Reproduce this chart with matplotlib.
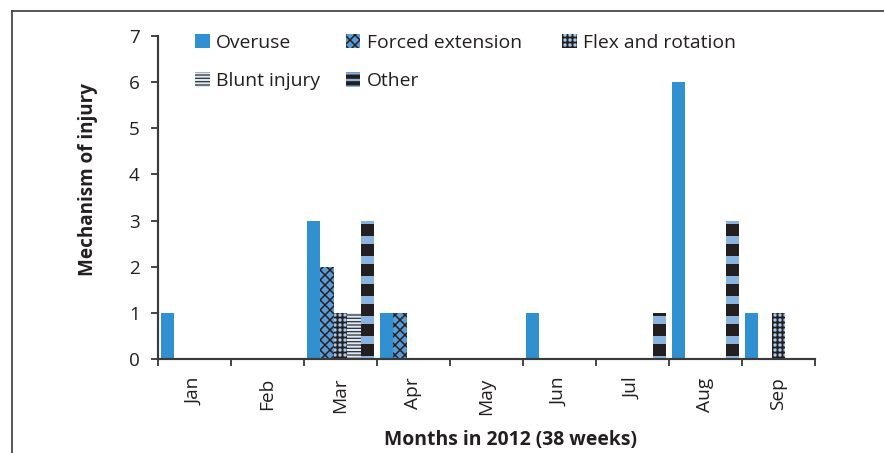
import numpy as np
import matplotlib
matplotlib.use("Agg")
import matplotlib.pyplot as plt
from matplotlib.lines import Line2D

# ---- data ----
months = ["Jan", "Feb", "Mar", "Apr", "May", "Jun", "Jul", "Aug", "Sep"]
series = ["Overuse", "Forced extension", "Flex and rotation", "Blunt injury", "Other"]
overuse = [1, 0, 3, 1, 0, 1, 0, 6, 1]
forced_extension = [0, 0, 2, 1, 0, 0, 0, 0, 0]
flex_rotation = [0, 0, 1, 0, 0, 0, 0, 0, 1]
blunt_injury = [0, 0, 1, 0, 0, 0, 0, 0, 0]
other = [0, 0, 3, 0, 0, 0, 1, 3, 0]
yticks = [0, 1, 2, 3, 4, 5, 6, 7]

DPI = 120
W, H = 884, 453
plt.rcParams['font.family'] = ['Open Sans', 'DejaVu Sans']
fig = plt.figure(figsize=(W / DPI, H / DPI), dpi=DPI)
ax = fig.add_axes([158 / W, 1 - 359 / H, (815 - 158) / W, (359 - 36) / H])

DARK = '#231f20'
styles = [
    dict(facecolor='#3090d0', edgecolor='none', hatch=None, hlw=1.0, lhatch=None, llw=1.0),
    dict(facecolor='#5b9bd5', edgecolor=DARK, hatch='xxxx', hlw=0.9, lhatch='xxxx', llw=0.9),
    dict(facecolor='#a9c8ea', edgecolor=DARK, hatch='++++', hlw=1.1, lhatch='++++', llw=1.1),
    dict(facecolor='#dce8f6', edgecolor='#3a3a3a', hatch='------', hlw=0.8, lhatch='------', llw=0.8),
    dict(facecolor='#8ab4e0', edgecolor=DARK, hatch='-', hlw=7.2, lhatch='---', llw=2.6),
]
data = [overuse, forced_extension, flex_rotation, blunt_injury, other]

x = np.arange(len(months))
group = 0.93
bw = group / len(series)
containers = []
for i, (name, vals, st) in enumerate(zip(series, data, styles)):
    matplotlib.rcParams['hatch.linewidth'] = st['hlw']
    offs = (i - (len(series) - 1) / 2) * bw
    bc = ax.bar(x + offs, vals, width=bw, facecolor=st['facecolor'],
                edgecolor=st['edgecolor'], hatch=st['hatch'], linewidth=0,
                label=name, zorder=2)
    for p in bc.patches:
        if hasattr(p, 'set_hatch_linewidth'):
            p.set_hatch_linewidth(st['hlw'])
    containers.append(bc)
matplotlib.rcParams['hatch.linewidth'] = 1.0

ax.set_xlim(-0.5, len(months) - 0.5)
ax.set_ylim(0, 7)
ax.set_yticks(yticks)
ax.set_xticks(np.arange(len(months) + 1) - 0.5)
ax.set_xticklabels([])
ax.set_xticks(x, minor=True)
ax.set_xticklabels(months, minor=True, rotation=90)

for s in ['top', 'right']:
    ax.spines[s].set_visible(False)
for s in ['left', 'bottom']:
    ax.spines[s].set_color('#3a3a3a')
    ax.spines[s].set_linewidth(1.3)

ax.tick_params(axis='y', which='major', direction='out', length=4, width=1.1,
               color='#3a3a3a', labelsize=11.3, labelcolor=DARK, pad=7)
ax.tick_params(axis='x', which='major', direction='out', length=4, width=1.1,
               color='#3a3a3a')
ax.tick_params(axis='x', which='minor', length=0, labelsize=11.5,
               labelcolor=DARK, pad=11)

ax.set_xlabel("Months in 2012 (38 weeks)", fontsize=11.6, fontweight='bold', color=DARK)
ax.set_ylabel("Mechanism of injury", fontsize=11.3, fontweight='bold', color=DARK)
ax.xaxis.set_label_coords((510 - 158) / (815 - 158), -(430 - 359) / (359 - 36))
ax.yaxis.set_label_coords((98 - 158) / (815 - 158), (359 - 179) / (359 - 36))


def style_handles(leg, idx):
    for hd, i in zip(leg.legend_handles, idx):
        st = styles[i]
        hd.set_hatch(st['lhatch'])
        if hasattr(hd, 'set_hatch_linewidth'):
            hd.set_hatch_linewidth(st['llw'])
    for t in leg.get_texts():
        t.set_color(DARK)


# legends
h = containers
order1 = [0, 3, 1, 4]
leg1 = fig.legend([h[i] for i in order1], [series[i] for i in order1],
                  ncol=2, loc='upper left', bbox_to_anchor=(195 / W, 1 - 34 / H),
                  frameon=False, fontsize=11.6, handlelength=0.75, handleheight=0.75,
                  handletextpad=0.35, columnspacing=1.3, labelspacing=1.05,
                  borderpad=0, borderaxespad=0)
style_handles(leg1, order1)
leg2 = fig.legend([h[2]], [series[2]], loc='upper left',
                  bbox_to_anchor=(562 / W, 1 - 34 / H), frameon=False, fontsize=11.6,
                  handlelength=0.75, handleheight=0.75, handletextpad=0.35,
                  borderpad=0, borderaxespad=0)
style_handles(leg2, [2])

# outer frame lines (top and left)
fig.add_artist(Line2D([12 / W, 12 / W], [0, 1 - 11 / H], transform=fig.transFigure,
                      color='#3a3a3a', lw=1.0))
fig.add_artist(Line2D([12 / W, 1], [1 - 11 / H, 1 - 11 / H], transform=fig.transFigure,
                      color='#3a3a3a', lw=1.0))

fig.savefig("out.png", dpi=DPI)
